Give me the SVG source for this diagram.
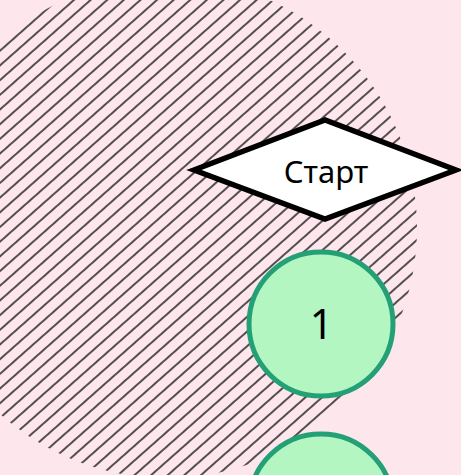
<svg xmlns="http://www.w3.org/2000/svg" width="461" height="475" viewBox="0 0 461 475">
  <defs>
    <pattern id="hatch" patternUnits="userSpaceOnUse" width="10" height="11" patternTransform="rotate(-41.5)">
      <line x1="-1" y1="5" x2="11" y2="5" stroke="#333333" stroke-width="1.7"/>
    </pattern>
    <style>
      .lbl { font-family: "Noto Sans", "Open Sans", "DejaVu Sans", sans-serif; fill: #000000; text-anchor: middle; }
      .num { stroke: #23a076; stroke-width: 5; fill: #b4f6c1; }
      .dec { stroke: #000000; stroke-width: 5.5; fill: #ffffff; stroke-linejoin: miter; stroke-miterlimit: 10; }
    </style>
  </defs>
  <rect x="0" y="0" width="461" height="475" fill="#fde6ec"/>
  <g id="hatched-area">
    <circle cx="167" cy="228" r="250" fill="url(#hatch)"/>
  </g>
  <g id="connectors"></g>
  <g id="start">
    <polygon class="dec" points="194,170 325,120 456,170 325,219"/>
    <text class="lbl" x="326" y="183" font-size="31">Старт</text>
  </g>
  <g id="node-1">
    <circle class="num" cx="321" cy="324" r="72"/>
    <text class="lbl" x="321.5" y="339" font-size="41">1</text>
  </g>
  <g id="node-2">
    <circle class="num" cx="321" cy="506" r="72"/>
  </g>
</svg>
